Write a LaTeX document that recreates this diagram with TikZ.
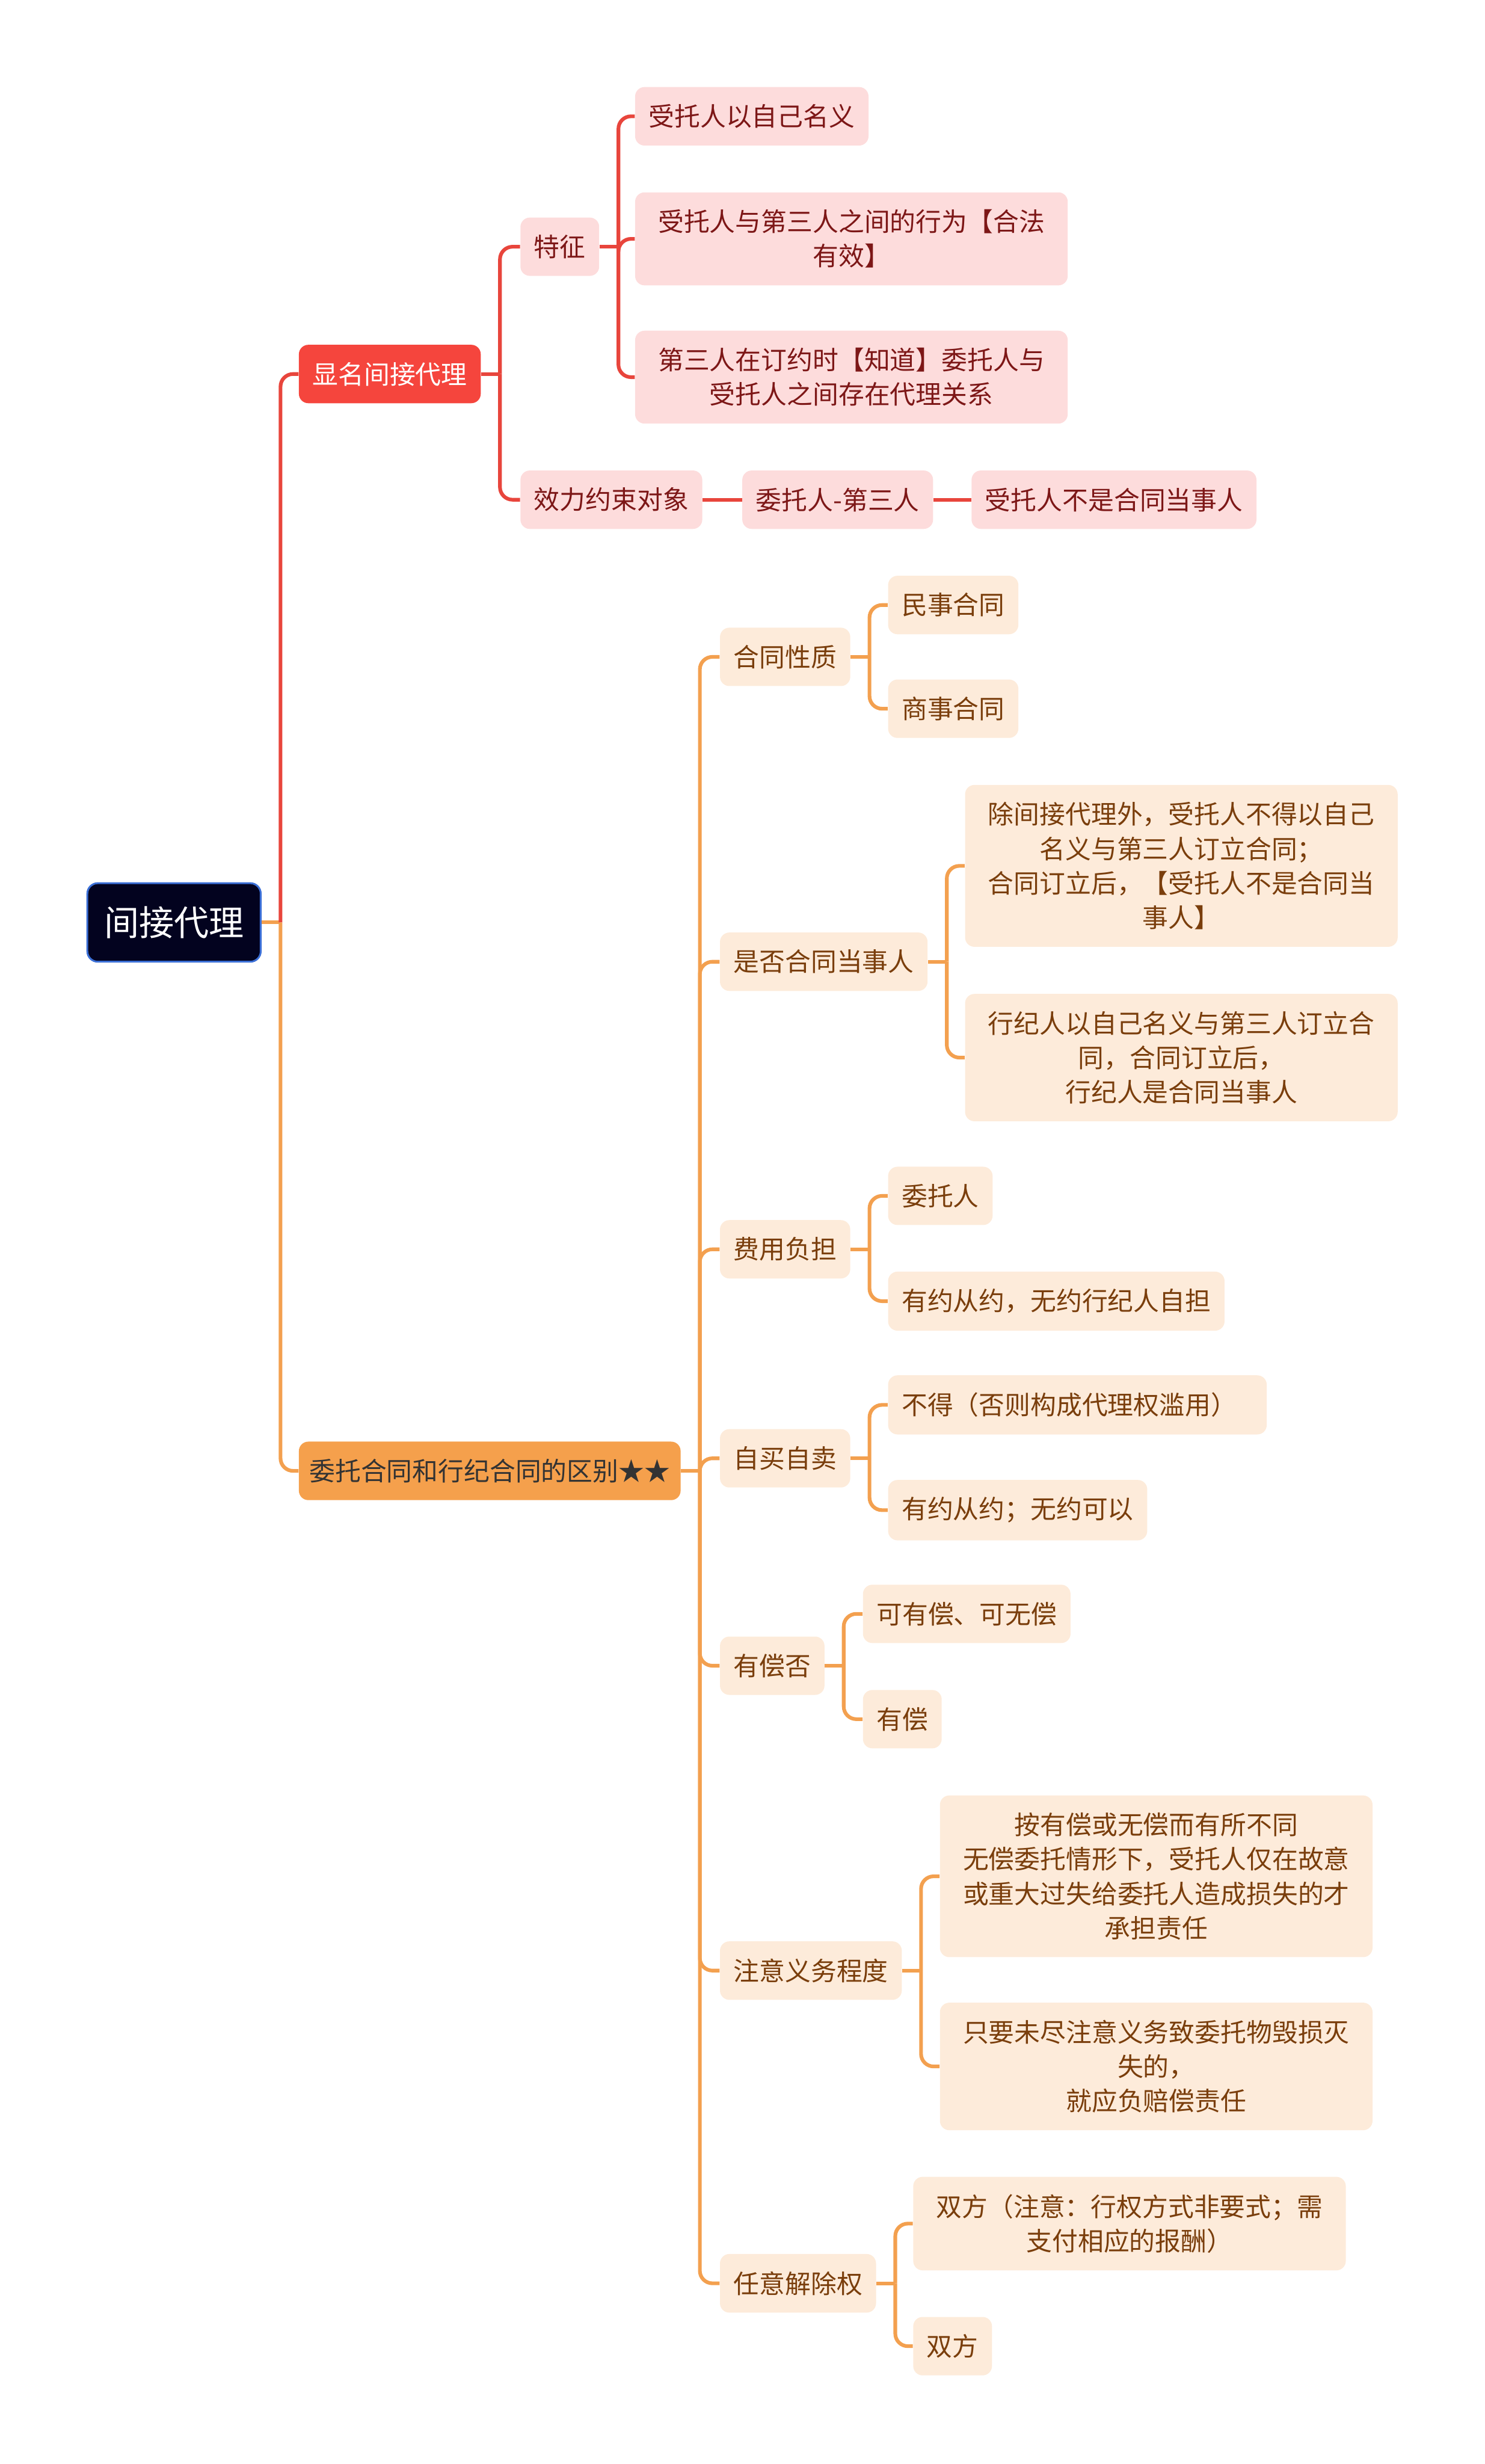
\documentclass[tikz,border=0pt]{standalone}
\usepackage{fontspec}
\setmainfont{Noto Sans CJK SC}
\usetikzlibrary{positioning}
\definecolor{rootfill}{HTML}{03031F}
\definecolor{rootedge}{HTML}{3B6FD6}
\definecolor{redmain}{HTML}{F5453D}
\definecolor{redline}{HTML}{E8453C}
\definecolor{pinkfill}{HTML}{FDDCDC}
\definecolor{pinktext}{HTML}{7D1717}
\definecolor{orangemain}{HTML}{F5A04C}
\definecolor{orangeline}{HTML}{F3A04F}
\definecolor{peachfill}{HTML}{FDEBDA}
\definecolor{browntext}{HTML}{7A3E0C}

\begin{document}
\begin{tikzpicture}[x=0.3mm,y=-0.3mm,
    box/.style={rectangle, rounded corners=1.8mm, anchor=west, inner xsep=2.6mm, inner ysep=3.3mm,
      align=center, font=\fontsize{14}{18.7}\selectfont},
    wide/.style={text width=77.4mm},
    rootbox/.style={box, fill=rootfill, draw=rootedge, line width=1pt, text=white, rounded corners=2mm,
      inner xsep=3.2mm, minimum height=15mm, font=\fontsize{19}{23}\selectfont},
    redbox/.style={box, fill=redmain, text=white},
    pinkbox/.style={box, fill=pinkfill, text=pinktext},
    orangebox/.style={box, fill=orangemain, text=black!80, inner xsep=2mm},
    peachbox/.style={box, fill=peachfill, text=browntext},
    rlink/.style={draw=redline, line width=2pt},
    olink/.style={draw=orangeline, line width=2pt},
    elbow/.style={rounded corners=2.4mm}]
  \useasboundingbox (0,0) rectangle (945,1568);

  \node[rootbox] (root) at (55,587) {间接代理};
  \node[redbox] (xm) at (190,238) {显名间接代理};
  \node[orangebox] (qb) at (190,936) {委托合同和行纪合同的区别★★};

  % 显名间接代理
  \node[pinkbox] (tz) at (331,157) {特征};
  \node[pinkbox] (tz1) at (404,74) {受托人以自己名义};
  \node[pinkbox, wide] (tz2) at (404,152) {受托人与第三人之间的行为【合法\\有效】};
  \node[pinkbox, wide] (tz3) at (404,240) {第三人在订约时【知道】委托人与\\受托人之间存在代理关系};
  \node[pinkbox] (xl) at (331,318) {效力约束对象};
  \node[pinkbox, right=7.5mm of xl] (xl1) {委托人-第三人};
  \node[pinkbox, right=7.2mm of xl1] (xl2) {受托人不是合同当事人};

  % 区别
  \node[peachbox] (xz) at (458,418) {合同性质};
  \node[peachbox] (xz1) at (565,385) {民事合同};
  \node[peachbox] (xz2) at (565,451) {商事合同};
  \node[peachbox] (dsr) at (458,612) {是否合同当事人};
  \node[peachbox, wide] (dsr1) at (614,551) {除间接代理外，受托人不得以自己\\名义与第三人订立合同；\\合同订立后，【受托人不是合同当\\事人】};
  \node[peachbox, wide] (dsr2) at (614,673) {行纪人以自己名义与第三人订立合\\同，合同订立后，\\行纪人是合同当事人};
  \node[peachbox] (fy) at (458,795) {费用负担};
  \node[peachbox] (fy1) at (565,761) {委托人};
  \node[peachbox] (fy2) at (565,828) {有约从约，无约行纪人自担};
  \node[peachbox] (zm) at (458,928) {自买自卖};
  \node[peachbox, text width=67.1mm, align=left] (zm1) at (565,894) {不得（否则构成代理权滥用）};
  \node[peachbox] (zm2) at (565,961) {有约从约；无约可以};
  \node[peachbox] (yc) at (458,1060) {有偿否};
  \node[peachbox] (yc1) at (549,1027) {可有偿、可无偿};
  \node[peachbox] (yc2) at (549,1094) {有偿};
  \node[peachbox] (zy) at (458,1254) {注意义务程度};
  \node[peachbox, wide] (zy1) at (598,1194) {按有偿或无偿而有所不同\\无偿委托情形下，受托人仅在故意\\或重大过失给委托人造成损失的才\\承担责任};
  \node[peachbox, wide] (zy2) at (598,1315) {只要未尽注意义务致委托物毁损灭\\失的，\\就应负赔偿责任};
  \node[peachbox] (jc) at (458,1453) {任意解除权};
  \node[peachbox, wide] (jc1) at (581,1415) {双方（注意：行权方式非要式；需\\支付相应的报酬）};
  \node[peachbox] (jc2) at (581,1493) {双方};

  % connectors
  \draw[olink] (root.east) -- ++(12,0) coordinate (rootj);
  \draw[rlink, elbow] (rootj) |- (xm.west);
  \draw[olink, elbow] (rootj) |- (qb.west);

  \draw[rlink] (xm.east) -- ++(12,0) coordinate (xmj);
  \foreach \c in {tz,xl} \draw[rlink, elbow] (xmj) |- (\c.west);
  \draw[rlink] (tz.east) -- ++(12,0) coordinate (tzj);
  \foreach \c in {tz1,tz2,tz3} \draw[rlink, elbow] (tzj) |- (\c.west);
  \draw[rlink] (xl.east) -- (xl1.west);
  \draw[rlink] (xl1.east) -- (xl2.west);

  \draw[olink] (qb.east) -- ++(12,0) coordinate (qbj);
  \foreach \c in {xz,dsr,fy,zm,yc,zy,jc} \draw[olink, elbow] (qbj) |- (\c.west);
  \foreach \p in {xz,dsr,fy,zm,yc,zy,jc} {
    \draw[olink] (\p.east) -- ++(12,0) coordinate (\p j);
    \foreach \c in {1,2} \draw[olink, elbow] (\p j) |- (\p\c.west);
  }
\end{tikzpicture}
\end{document}
